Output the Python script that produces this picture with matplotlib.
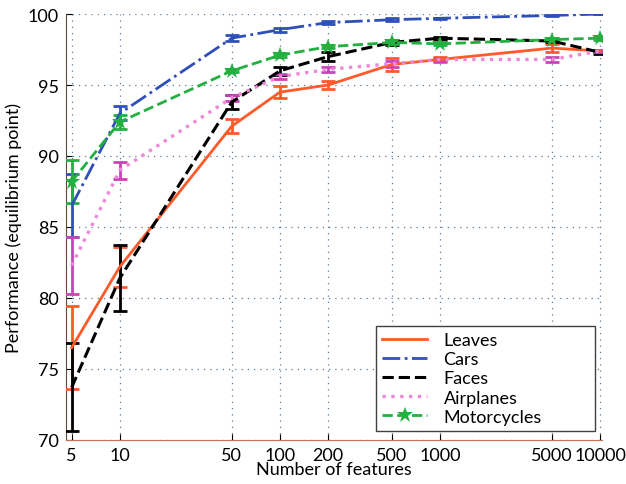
import numpy as np
import matplotlib
matplotlib.use('Agg')
import matplotlib.pyplot as plt

plt.rcParams['font.family'] = ['Lato', 'DejaVu Sans']

# Numero de caracteristicas (eje x)
features = [5, 10, 50, 100, 200, 500, 1000, 5000, 10000]
tick_labels = ['5', '10', '50', '100', '200', '500', '1000', '5000', '10000']

# Rendimiento (punto de equilibrio) y errores por categoria
leaves = [76.5, 82.2, 92.1, 94.5, 95.0, 96.45, 96.8, 97.6, 97.4]
leaves_err = [2.9, 1.4, 0.5, 0.4, 0.3, 0.45, 0.2, 0.3, 0.1]

cars = [86.5, 93.0, 98.3, 98.9, 99.4, 99.6, 99.7, 99.9, 100.0]
cars_err = [2.2, 0.5, 0.2, 0.15, 0.1, 0.1, 0.05, 0.05, 0.02]

faces = [73.7, 81.4, 93.8, 96.0, 97.0, 98.0, 98.3, 98.1, 97.3]
faces_err = [3.1, 2.35, 0.5, 0.3, 0.3, 0.15, 0.1, 0.1, 0.1]

airplanes = [82.3, 89.0, 94.1, 95.6, 96.1, 96.5, 96.8, 96.8, 97.4]
airplanes_err = [2.0, 0.6, 0.2, 0.2, 0.2, 0.2, 0.1, 0.15, 0.1]

motorcycles = [88.2, 92.4, 96.0, 97.1, 97.7, 98.0, 97.9, 98.2, 98.3]
motorcycles_err = [1.5, 0.5, 0.1, 0.1, 0.1, 0.1, 0.1, 0.1, 0.1]

fig = plt.figure(figsize=(6.26, 4.85), dpi=100)
ax = fig.add_axes([0.105, 0.091, 0.857, 0.878])

series = [
    ('Leaves', leaves, leaves_err, '#ff5a2a', '#ff5a2a', '-', None, 2.0),
    ('Cars', cars, cars_err, '#2f50b8', '#2f50b8', '-.', None, 2.0),
    ('Faces', faces, faces_err, 'black', 'black', '--', None, 2.2),
    ('Airplanes', airplanes, airplanes_err, '#ee88d8', '#c845b8', ':', None, 2.4),
    ('Motorcycles', motorcycles, motorcycles_err, '#22b040', '#22b040', '--', '*', 2.0),
]

for name, vals, err, col, ecol, ls, mk, lw in series:
    ax.errorbar(features, vals, yerr=err, fmt='none', ecolor=ecol,
                elinewidth=2, capsize=5, capthick=2, zorder=3)
    ax.plot(features, vals, color=col, linestyle=ls, linewidth=lw,
            marker=mk, markersize=12, markeredgewidth=0, label=name, zorder=4)

ax.set_xscale('log')
ax.set_xlim(4.59, 10300)
ax.set_ylim(70, 100)
ax.set_xticks(features)
ax.set_xticklabels(tick_labels)
ax.minorticks_off()
ax.set_yticks([70, 75, 80, 85, 90, 95, 100])

ax.grid(True, linestyle=(0, (1, 4)), color='#5a7a9a', linewidth=0.9)
ax.spines['top'].set_visible(False)
ax.spines['right'].set_visible(False)
ax.spines['left'].set_color('#5a4a40')
ax.spines['bottom'].set_color('#c87050')
ax.tick_params(labelsize=13, direction='in', length=4, pad=5)

ax.set_xlabel('Number of features', fontsize=13, labelpad=-1)
ax.set_ylabel('Performance (equilibrium point)', fontsize=13, labelpad=4)

# leyenda estilo MATLAB: caja mas ancha que el texto
leg = ax.legend(loc='lower left', bbox_to_anchor=(0.578, 0.021, 0.409, 0.25),
                mode='expand', fontsize=13, handlelength=2.5,
                fancybox=False, framealpha=1, borderaxespad=0,
                labelspacing=0.17, borderpad=0.35, handletextpad=0.9)
leg.get_frame().set_edgecolor('#404040')

fig.savefig('out.png', dpi=100)
